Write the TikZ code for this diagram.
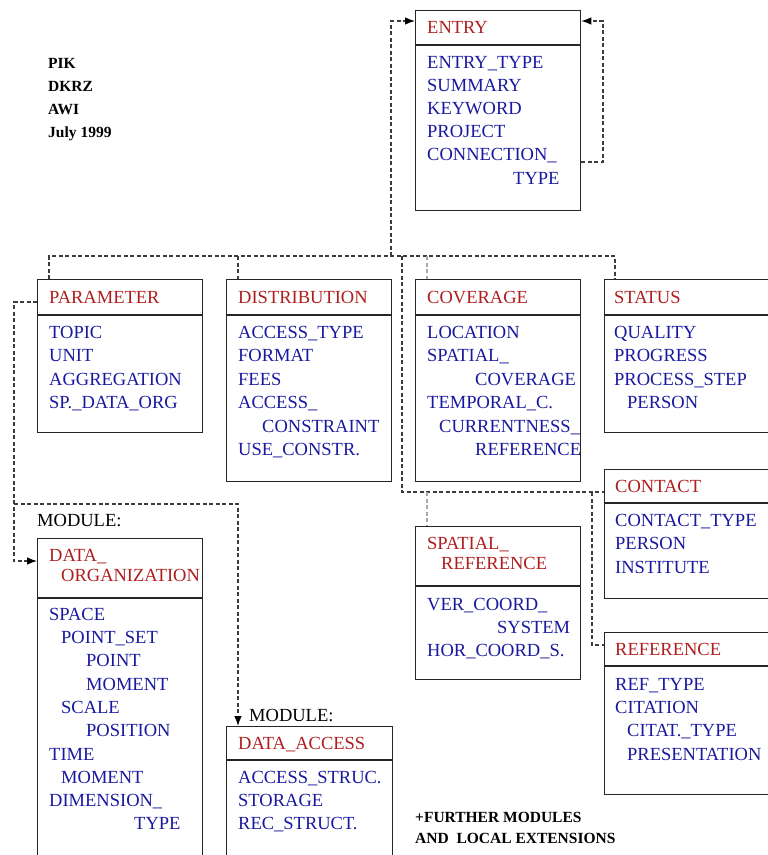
\documentclass[tikz,border=0pt]{standalone}
\usepackage{fontspec}
\setmainfont{Liberation Serif}
\usetikzlibrary{arrows.meta,calc}
\definecolor{hdred}{RGB}{175,30,30}
\definecolor{itblue}{RGB}{25,25,160}
\definecolor{lnk}{RGB}{60,60,60}
\tikzstyle{tbl} = [rectangle, draw=black!85, line width=1.3pt, inner sep=0pt, anchor=north west]
\tikzstyle{hd} = [anchor=base west, inner sep=0pt, text=hdred, font=\fontsize{18.5}{23}\selectfont]
\tikzstyle{it} = [hd, text=itblue]
\tikzstyle{lab} = [hd, text=black]
\tikzstyle{org} = [anchor=base west, inner sep=0pt, font=\fontsize{15.5}{23}\selectfont\bfseries]
\tikzstyle{dl} = [draw=lnk, line width=1.1pt, dash pattern=on 4pt off 2.5pt]
\tikzstyle{dlg} = [dl, draw=black!35]
\tikzstyle{tip} = [-{Latex[length=10pt,width=7.5pt,black]}]

\begin{document}
\begin{tikzpicture}[x=1pt,y=-1pt]
	\clip (0,0) rectangle (768,855);
	% boxes: name/x/y/width/height/header
	\foreach \nm/\x/\y/\bw/\bh/\dv in {entry/415/10/165/200/35, parameter/37/279/165/153/36,
		distribution/226/279/165/202/36, coverage/415/279/165/202/36, status/604/279/180/153/36,
		contact/604/469/180/129/34, reference/604/632/180/162/34, spatialref/415/526/165/153/60,
		dataorg/37/538/165/340/60, dataaccess/226/726/166/150/34}
	{
		\node[tbl, minimum width=\bw pt, minimum height=\bh pt] (\nm) at (\x,\y) {};
		\draw[black!85, line width=1.3pt] ($(\nm.north west)+(0,\dv)$) -- ($(\nm.north east)+(0,\dv)$);
	}
	% headers
	\foreach \x/\y/\txt [count=\i] in {427/33/ENTRY, 49/303/PARAMETER, 238/303/DISTRIBUTION,
		427/303/COVERAGE, 614/303/STATUS, 615/492/CONTACT, 615/655/REFERENCE,
		427/549/SPATIAL\_, 441/569/REFERENCE, 49/561/DATA\_, 61/581/ORGANIZATION, 238/749/DATA\_ACCESS}
		\node[hd] (h\i) at (\x,\y) {\txt};
	% attributes
	\foreach \x/\y/\txt [count=\i] in {427/68/ENTRY\_TYPE, 427/91/SUMMARY, 427/114/KEYWORD,
		427/137/PROJECT, 427/160/CONNECTION\_, 513/184/TYPE,
		49/338/TOPIC, 49/361/UNIT, 49/385/AGGREGATION, 49/408/SP.\_DATA\_ORG,
		238/338/ACCESS\_TYPE, 238/361/FORMAT, 238/385/FEES, 238/408/ACCESS\_, 262/432/CONSTRAINT, 238/455/USE\_CONSTR.,
		427/338/LOCATION, 427/361/SPATIAL\_, 475/385/COVERAGE, 427/408/TEMPORAL\_C., 439/432/CURRENTNESS\_, 475/455/REFERENCE,
		614/338/QUALITY, 614/361/PROGRESS, 614/385/PROCESS\_STEP, 627/408/PERSON,
		615/526/CONTACT\_TYPE, 615/549/PERSON, 615/573/INSTITUTE,
		615/690/REF\_TYPE, 615/713/CITATION, 627/736/CITAT.\_TYPE, 627/760/PRESENTATION,
		427/610/VER\_COORD\_, 497/633/SYSTEM, 427/656/HOR\_COORD\_S.,
		49/620/SPACE, 61/643/POINT\_SET, 86/666/POINT, 86/690/MOMENT, 61/713/SCALE, 86/736/POSITION,
		49/760/TIME, 61/783/MOMENT, 49/806/DIMENSION\_, 134/829/TYPE,
		238/783/ACCESS\_STRUC., 238/806/STORAGE, 238/829/REC\_STRUCT.}
		\node[it] (a\i) at (\x,\y) {\txt};
	\node[lab] (mod1) at (37,526) {MODULE:};
	\node[lab] (mod2) at (249,721) {MODULE:};
	\foreach \y/\txt [count=\i] in {68/PIK, 91/DKRZ, 114/AWI, 137/July 1999}
		\node[org] (o\i) at (48,\y) {\txt};
	\node[org] (fm1) at (415,822) {+FURTHER MODULES};
	\node[org] (fm2) at (415,843) {AND\ \ LOCAL EXTENSIONS};
	% connectors
	\coordinate (bl) at (49,256);
	\coordinate (bd) at (238,256);
	\coordinate (be) at (391,256);
	\coordinate (bc) at (402,256);
	\coordinate (bg) at (427,256);
	\coordinate (br) at (615,256);
	\coordinate (et) at (391,21);
	\coordinate (lt) at (603,21);
	\coordinate (lb) at (603,162);
	\coordinate (cj) at (402,492);
	\coordinate (sg) at (427,492);
	\coordinate (rj) at (592,492);
	\coordinate (rb) at (592,645);
	\coordinate (pt) at (14,302);
	\coordinate (mj) at (14,504);
	\coordinate (ma) at (238,504);
	\coordinate (ob) at (14,561);
	\draw[dl] (bl |- parameter.north) -- (bl) -- (br) -- (br |- status.north);
	\draw[dl,tip] (be) -- (et) -- (et -| entry.west);
	\draw[dl,tip] (lb -| entry.east) -- (lb) -- (lt) -- (lt -| entry.east);
	\draw[dl] (bd) -- (bd |- distribution.north);
	\draw[dl] (bc) -- (cj) -- (cj -| contact.west);
	\draw[dl] (rj) -- (rb) -- (rb -| reference.west);
	\draw[dlg] (bg) -- (bg |- coverage.north);
	\draw[dlg] (sg) -- (sg |- spatialref.north);
	\draw[dl,tip] (pt -| parameter.west) -- (pt) -- (ob) -- (ob -| dataorg.west);
	\draw[dl,tip] (mj) -- (ma) -- (ma |- dataaccess.north);
\end{tikzpicture}
\end{document}
